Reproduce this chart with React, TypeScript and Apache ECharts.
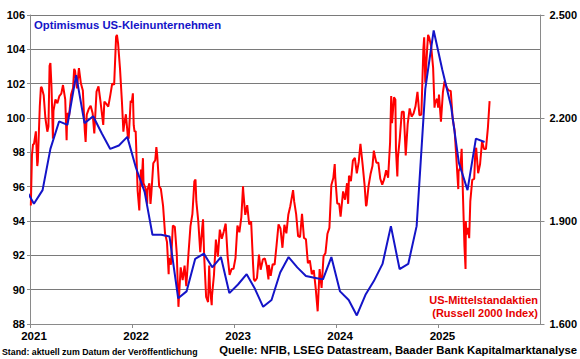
import React, { useEffect, useRef } from "react";
import * as echarts from "echarts";

// NFIB Small Business Optimism Index (monthly)
const nfibMonths = [
  "2020-12",
  "2021-01","2021-02","2021-03","2021-04","2021-05","2021-06","2021-07","2021-08","2021-09","2021-10","2021-11","2021-12",
  "2022-01","2022-02","2022-03","2022-04","2022-05","2022-06","2022-07","2022-08","2022-09","2022-10","2022-11","2022-12",
  "2023-01","2023-02","2023-03","2023-04","2023-05","2023-06","2023-07","2023-08","2023-09","2023-10","2023-11","2023-12",
  "2024-01","2024-02","2024-03","2024-04","2024-05","2024-06","2024-07","2024-08","2024-09","2024-10","2024-11","2024-12",
  "2025-01","2025-02","2025-03","2025-04","2025-05","2025-06",
];
const nfibValues = [
  95.9,
  95.0, 95.8, 98.2, 99.8, 99.6, 102.5, 99.7, 100.1, 99.1, 98.2, 98.4, 98.9,
  97.1, 95.7, 93.2, 93.2, 93.1, 89.5, 89.9, 91.8, 92.1, 91.3, 91.9, 89.8,
  90.3, 90.9, 90.1, 89.0, 89.4, 91.0, 91.9, 91.3, 90.8, 90.7, 90.6, 91.9,
  89.9, 89.4, 88.5, 89.7, 90.5, 91.5, 93.7, 91.2, 91.5, 93.7, 101.7, 105.1,
  102.8, 100.7, 97.4, 95.8, 98.8, 98.6,
];

// Russell 2000 Index
const russell2021: [string, number][] = [
  ["2021-01-04",1945],["2021-01-08",2091],["2021-01-12",2125],["2021-01-15",2123],["2021-01-22",2161],
  ["2021-01-27",2060],["2021-01-29",2073],["2021-02-05",2233],["2021-02-09",2290],["2021-02-12",2289],
  ["2021-02-19",2266],["2021-02-25",2200],["2021-02-26",2201],["2021-03-04",2160],["2021-03-08",2175],
  ["2021-03-12",2352],["2021-03-15",2360],["2021-03-19",2289],["2021-03-24",2140],["2021-03-26",2221],
  ["2021-04-02",2254],["2021-04-09",2243],["2021-04-16",2264],["2021-04-23",2271],["2021-04-29",2296],
  ["2021-05-07",2254],["2021-05-12",2135],["2021-05-14",2214],["2021-05-21",2207],["2021-05-28",2268],
  ["2021-06-04",2287],["2021-06-08",2343],["2021-06-11",2338],["2021-06-18",2286],["2021-06-25",2345],
  ["2021-07-02",2301],["2021-07-09",2280],["2021-07-16",2163],["2021-07-19",2130],["2021-07-23",2210],
  ["2021-07-30",2226],["2021-08-06",2236],["2021-08-13",2214],["2021-08-19",2155],["2021-08-27",2277],
  ["2021-09-03",2292],["2021-09-10",2249],["2021-09-20",2180],["2021-09-24",2248],["2021-10-01",2241],
  ["2021-10-08",2233],["2021-10-15",2265],["2021-10-22",2300],["2021-10-29",2297],["2021-11-05",2437],
  ["2021-11-08",2442],["2021-11-12",2418],["2021-11-19",2343],["2021-11-26",2245],["2021-12-01",2160],
  ["2021-12-03",2175],["2021-12-10",2211],["2021-12-17",2146],["2021-12-20",2140],["2021-12-27",2250],
  ["2021-12-31",2245],
];
const russell2022: [string, number][] = [
  ["2022-01-04",2272],["2022-01-07",2179],["2022-01-10",2160],["2022-01-14",2162],["2022-01-21",1988],
  ["2022-01-27",1931],["2022-01-28",1962],["2022-02-02",2050],["2022-02-04",2003],["2022-02-09",2083],
  ["2022-02-11",2010],["2022-02-18",1996],["2022-02-24",1950],["2022-02-25",1990],["2022-03-04",2010],
  ["2022-03-08",1950],["2022-03-11",1979],["2022-03-18",2068],["2022-03-25",2077],["2022-03-29",2115],
  ["2022-04-01",2093],["2022-04-08",2001],["2022-04-14",1994],["2022-04-22",1944],["2022-04-29",1864],
  ["2022-05-06",1839],["2022-05-12",1745],["2022-05-13",1792],["2022-05-20",1773],["2022-05-27",1887],
  ["2022-06-03",1883],["2022-06-10",1805],["2022-06-16",1650],["2022-06-17",1665],["2022-06-24",1765],
  ["2022-07-01",1728],["2022-07-08",1770],["2022-07-14",1710],["2022-07-22",1806],["2022-07-29",1885],
  ["2022-08-05",1921],["2022-08-12",2016],["2022-08-16",2021],["2022-08-19",1957],["2022-08-26",1899],
  ["2022-09-02",1809],["2022-09-09",1880],["2022-09-12",1905],["2022-09-16",1798],["2022-09-23",1679],
  ["2022-09-30",1664],["2022-10-04",1770],["2022-10-07",1702],["2022-10-13",1655],["2022-10-14",1682],
  ["2022-10-21",1742],["2022-10-28",1846],["2022-11-04",1796],["2022-11-11",1875],["2022-11-18",1848],
  ["2022-11-25",1869],["2022-12-01",1890],["2022-12-02",1892],["2022-12-09",1797],["2022-12-16",1743],
  ["2022-12-23",1760],["2022-12-30",1761],
];
const russell2023: [string, number][] = [
  ["2023-01-06",1792],["2023-01-13",1887],["2023-01-20",1867],["2023-01-27",1911],["2023-02-02",2001],
  ["2023-02-03",1986],["2023-02-10",1918],["2023-02-17",1946],["2023-02-24",1890],["2023-03-03",1899],
  ["2023-03-10",1773],["2023-03-13",1730],["2023-03-17",1725],["2023-03-24",1734],["2023-03-31",1802],
  ["2023-04-06",1758],["2023-04-14",1788],["2023-04-21",1791],["2023-04-28",1768],["2023-05-04",1730],
  ["2023-05-05",1772],["2023-05-12",1740],["2023-05-19",1774],["2023-05-26",1773],["2023-06-02",1830],
  ["2023-06-09",1890],["2023-06-16",1878],["2023-06-23",1822],["2023-06-30",1889],["2023-07-07",1864],
  ["2023-07-14",1918],["2023-07-21",1943],["2023-07-31",1990],["2023-08-04",1957],["2023-08-11",1920],
  ["2023-08-18",1856],["2023-08-25",1853],["2023-09-01",1921],["2023-09-08",1851],["2023-09-15",1847],
  ["2023-09-22",1777],["2023-09-29",1785],["2023-10-06",1745],["2023-10-13",1757],["2023-10-20",1704],
  ["2023-10-27",1637],["2023-11-03",1760],["2023-11-10",1705],["2023-11-17",1797],["2023-11-24",1807],
  ["2023-12-01",1863],["2023-12-08",1880],["2023-12-15",2005],["2023-12-22",2025],["2023-12-27",2066],
  ["2023-12-29",2027],
];
const russell2024: [string, number][] = [
  ["2024-01-05",1951],["2024-01-12",1950],["2024-01-17",1913],["2024-01-19",1929],["2024-01-26",1986],
  ["2024-02-02",1962],["2024-02-09",2010],["2024-02-13",1950],["2024-02-16",2032],["2024-02-23",2016],
  ["2024-03-01",2076],["2024-03-08",2084],["2024-03-15",2039],["2024-03-22",2072],["2024-03-28",2125],
  ["2024-04-05",2063],["2024-04-12",2003],["2024-04-17",1943],["2024-04-19",1947],["2024-04-26",2002],
  ["2024-05-03",2036],["2024-05-10",2060],["2024-05-15",2105],["2024-05-17",2095],["2024-05-24",2070],
  ["2024-05-31",2070],["2024-06-07",2023],["2024-06-14",2006],["2024-06-21",2022],["2024-06-28",2048],
  ["2024-07-05",2026],["2024-07-12",2128],["2024-07-16",2264],["2024-07-19",2185],["2024-07-26",2260],
  ["2024-07-31",2254],["2024-08-02",2109],["2024-08-07",2030],["2024-08-09",2084],["2024-08-16",2143],
  ["2024-08-23",2218],["2024-08-30",2218],["2024-09-06",2091],["2024-09-13",2182],["2024-09-20",2228],
  ["2024-09-27",2204],["2024-10-04",2213],["2024-10-11",2234],["2024-10-18",2276],["2024-10-25",2208],
  ["2024-11-01",2210],["2024-11-08",2399],["2024-11-11",2435],["2024-11-15",2303],["2024-11-22",2406],
  ["2024-11-25",2442],["2024-11-29",2434],["2024-12-06",2409],["2024-12-13",2346],["2024-12-18",2230],
  ["2024-12-20",2243],["2024-12-27",2256],["2024-12-31",2230],
];
const russell2025: [string, number][] = [
  ["2025-01-03",2268],["2025-01-10",2189],["2025-01-17",2275],["2025-01-23",2307],["2025-01-31",2288],
  ["2025-02-07",2280],["2025-02-14",2279],["2025-02-21",2197],["2025-02-28",2163],["2025-03-07",2071],
  ["2025-03-13",1993],["2025-03-14",2045],["2025-03-21",2057],["2025-03-25",2110],["2025-03-28",2023],
  ["2025-04-04",1827],["2025-04-08",1760],["2025-04-09",1900],["2025-04-11",1860],["2025-04-17",1880],
  ["2025-04-21",1850],["2025-04-25",1957],["2025-05-02",2020],["2025-05-09",2023],["2025-05-13",2105],
  ["2025-05-16",2113],["2025-05-23",2039],["2025-05-30",2066],["2025-06-06",2132],["2025-06-13",2110],
  ["2025-06-20",2110],["2025-06-27",2172],["2025-07-03",2249],
];

const yearTicks = ["2021-01-01", "2022-01-01", "2023-01-01", "2024-01-01", "2025-01-01"];
const xRange = ["2021-01-01", "2026-01-01"];
const leftAxis = { min: 88, max: 106, interval: 2 };
const rightAxis = { min: 1600, max: 2500, interval: 300 };

const FONT = "'Liberation Sans', Arial, sans-serif";

function fmtThousands(v: number): string {
  const th = Math.floor(v / 1000);
  const rest = Math.round(v % 1000);
  return th > 0 ? `${th}.${String(rest).padStart(3, "0")}` : String(rest);
}

export default function App() {
  const ref = useRef<HTMLDivElement>(null);
  useEffect(() => {
    if (!ref.current) return;
    const chart = echarts.init(ref.current, undefined, { renderer: "svg" });
    const ts = (s: string) => new Date(s + "T00:00:00Z").getTime();
    const nfibData = nfibMonths.map((m, i) => [ts(m + "-15"), nfibValues[i]]);
    const rutData = [...russell2021, ...russell2022, ...russell2023, ...russell2024, ...russell2025].map(
      ([d, v]) => [ts(d), v]
    );
    const tickVals = yearTicks.map(ts);
    chart.setOption({
      animation: false,
      backgroundColor: "#ffffff",
      textStyle: { fontFamily: FONT },
      grid: { left: 30, right: 39, top: 15, bottom: 35, containLabel: false },
      xAxis: {
        type: "value",
        min: ts(xRange[0]),
        max: ts(xRange[1]),
        axisLine: { show: true, lineStyle: { color: "#8a8a8a", width: 1 } },
        axisTick: { show: true, length: 4, lineStyle: { color: "#8a8a8a" }, customValues: tickVals },
        axisLabel: {
          customValues: tickVals,
          formatter: (v: number) => String(new Date(v).getUTCFullYear()),
          color: "#000",
          fontWeight: "bold",
          fontSize: 11.5,
          fontFamily: FONT,
          margin: 6,
          padding: [0, 0, 0, 8],
        },
        splitLine: { show: false },
      },
      yAxis: [
        {
          type: "value",
          position: "left",
          min: leftAxis.min,
          max: leftAxis.max,
          interval: leftAxis.interval,
          axisLine: { show: true, lineStyle: { color: "#8a8a8a", width: 1 } },
          axisTick: { show: true, length: 3, lineStyle: { color: "#8a8a8a" } },
          axisLabel: { color: "#000", fontWeight: "bold", fontSize: 11, fontFamily: FONT, margin: 5 },
          splitLine: { show: true, lineStyle: { color: "#7a7a7a", width: 1 } },
        },
        {
          type: "value",
          position: "right",
          min: rightAxis.min,
          max: rightAxis.max,
          interval: rightAxis.interval,
          axisLine: { show: true, lineStyle: { color: "#8a8a8a", width: 1 } },
          axisTick: { show: true, length: 4, lineStyle: { color: "#8a8a8a" } },
          axisLabel: {
            color: "#000",
            fontWeight: "bold",
            fontSize: 11,
            fontFamily: FONT,
            margin: 9,
            formatter: (v: number) => fmtThousands(v),
          },
          splitLine: { show: false },
        },
      ],
      series: [
        {
          name: "Russell 2000",
          type: "line",
          yAxisIndex: 1,
          data: rutData,
          showSymbol: false,
          symbol: "none",
          clip: true,
          lineStyle: { color: "#ff0000", width: 2 },
          z: 2,
        },
        {
          name: "NFIB",
          type: "line",
          yAxisIndex: 0,
          data: nfibData,
          showSymbol: false,
          symbol: "none",
          clip: true,
          lineStyle: { color: "#1414c8", width: 2 },
          z: 3,
        },
      ],
      graphic: [
        {
          type: "text",
          left: 34,
          top: 19,
          style: { text: "Optimismus US-Kleinunternehmen", fill: "#1414c8", font: `bold 11.3px ${FONT}` },
        },
        {
          type: "text",
          right: 42,
          top: 294,
          style: { text: "US-Mittelstandaktien", fill: "#e60000", font: `bold 11px ${FONT}` },
        },
        {
          type: "text",
          right: 42,
          top: 307,
          style: { text: "(Russell 2000 Index)", fill: "#e60000", font: `bold 11px ${FONT}` },
        },
        {
          type: "text",
          left: 2,
          top: 347,
          style: { text: "Stand: aktuell zum Datum der Veröffentlichung", fill: "#000", font: `bold 8.8px ${FONT}` },
        },
        {
          type: "text",
          right: 3,
          top: 344,
          style: {
            text: "Quelle: NFIB, LSEG Datastream, Baader Bank Kapitalmarktanalyse",
            fill: "#000",
            font: `bold 11.3px ${FONT}`,
          },
        },
      ],
    });
    return () => chart.dispose();
  }, []);
  return <div ref={ref} style={{ width: 580, height: 359, position: "fixed", left: 0, top: 0 }} />;
}
